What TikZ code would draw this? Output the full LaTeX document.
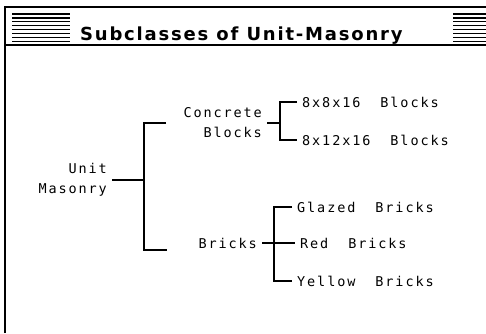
\documentclass[tikz,border=0pt]{standalone}
\usepackage{fontspec}
\newfontfamily\titlefont[LetterSpace=10]{DejaVu Sans}
\newfontfamily\termfont[LetterSpace=14]{DejaVu Sans Mono}

\begin{document}
\begin{tikzpicture}[
            x=1pt, y=-1pt,
            every node/.style={inner ysep=0pt, inner xsep=5pt, align=right},
            term/.style={anchor=east, font=\termfont\fontsize{13.5}{20}\selectfont},
            leaf/.style={anchor=west, font=\termfont\fontsize{13.5}{20}\selectfont},
            frame/.style={line width=2.5pt},
            stripe/.style={line width=1.3pt},
            bracket/.style={line width=2pt}
        ]

        \useasboundingbox (0,0) rectangle (486,333);

        % window frame and title bar
        \draw[frame] (5,333) -- (5,7) -- (486,7);
        \draw[bracket] (5,44.5) -- (486,44.5);
        \foreach \i in {0,...,7} {
            \draw[stripe] (12,14+\i*3.9) -- (70,14+\i*3.9);
            \draw[stripe] (453,14+\i*3.9) -- (486,14+\i*3.9);
        }
        \node[anchor=base west, inner sep=0pt] (title) at (80,40)
            {\titlefont\bfseries\fontsize{18}{22}\selectfont Subclasses of Unit-Masonry};

        % classes
        \node[term] (um) at (112,180) {Unit\\Masonry};
        \node[term] (cb) at (267,123) {Concrete\\Blocks};
        \node[term] (br) at (262,243) {Bricks};

        \node[leaf] (b1) at (297,102) {8x8x16~~Blocks};
        \node[leaf] (b2) at (297,140) {8x12x16~~Blocks};
        \node[leaf] (r1) at (292,207) {Glazed~~Bricks};
        \node[leaf] (r2) at (295,243) {Red~~Bricks};
        \node[leaf] (r3) at (292,281) {Yellow~~Bricks};

        % brackets
        \path (um.east) ++(32,0) coordinate (umbar);
        \coordinate (cbend) at (166,123);
        \coordinate (brend) at (167,250);
        \draw[bracket] (um.east) -- (umbar);
        \draw[bracket] (cbend) -| (umbar) |- (brend);

        \path (cb.east) ++(13,0) coordinate (cbbar);
        \draw[bracket] (cb.east) -- (cbbar);
        \draw[bracket] (b1.west) -| (cbbar) |- (b2.west);

        \path (br.east) ++(12,0) coordinate (brbar);
        \draw[bracket] (br.east) -- (r2.west);
        \draw[bracket] (r1.west) -| (brbar) |- (r3.west);

\end{tikzpicture}
\end{document}
